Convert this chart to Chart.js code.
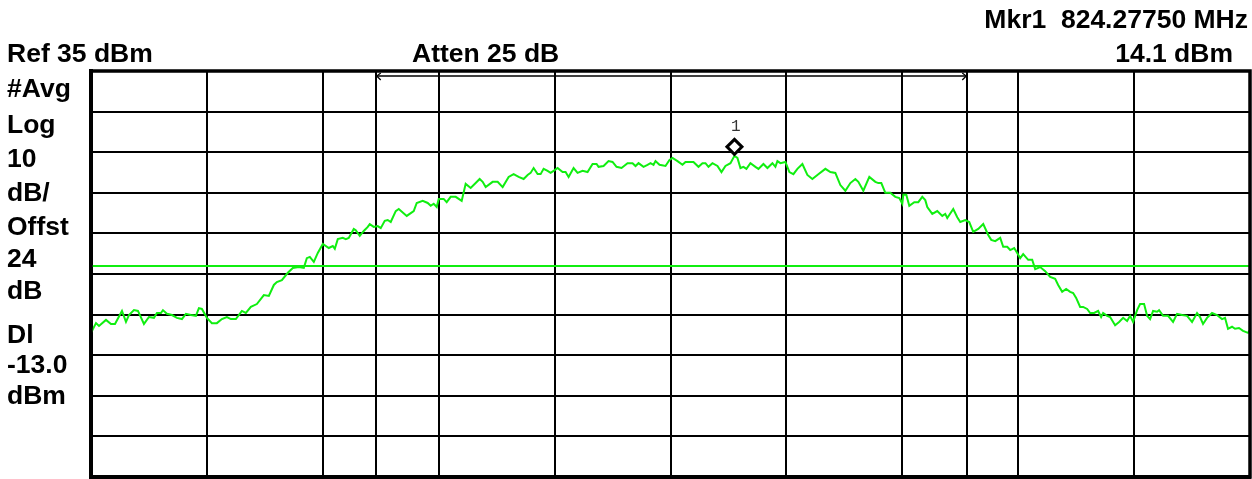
<!DOCTYPE html>
<html>
<head>
<meta charset="utf-8">
<script src="https://cdn.jsdelivr.net/npm/chart.js@4.4.1/dist/chart.umd.min.js"></script>
<style>
  html, body { margin: 0; padding: 0; background: #fff; }
  #wrap { position: relative; width: 1252px; height: 479px; overflow: hidden; }
  canvas { position: absolute; left: 0; top: 0; }
  .lbl { position: absolute; font-family: "Liberation Sans", Arial, sans-serif; font-weight: bold;
         font-size: 26.5px; line-height: 26.5px; color: #000; white-space: pre; }
  .mk { position: absolute; font-family: "Liberation Mono", "DejaVu Sans Mono", monospace; font-size: 16px;
        line-height: 16px; color: #333; }
</style>
</head>
<body>
<div id="wrap">
  <canvas id="c" width="1252" height="479"></canvas>
  <div class="lbl" style="right:4px; top:6px;">Mkr1  824.27750 MHz</div>
  <div class="lbl" style="left:7px; top:40px;">Ref 35 dBm</div>
  <div class="lbl" style="left:412px; top:40px;">Atten 25 dB</div>
  <div class="lbl" style="right:19px; top:40px;">14.1 dBm</div>
  <div class="lbl" style="left:7px; top:75px;">#Avg</div>
  <div class="lbl" style="left:7px; top:111px;">Log</div>
  <div class="lbl" style="left:7px; top:145px;">10</div>
  <div class="lbl" style="left:7px; top:179px;">dB/</div>
  <div class="lbl" style="left:7px; top:213px;">Offst</div>
  <div class="lbl" style="left:7px; top:245px;">24</div>
  <div class="lbl" style="left:7px; top:277px;">dB</div>
  <div class="lbl" style="left:7px; top:321px;">Dl</div>
  <div class="lbl" style="left:7px; top:351px;">-13.0</div>
  <div class="lbl" style="left:7px; top:382px;">dBm</div>
  <div class="mk" style="left:731px; top:119px;">1</div>
</div>
<script>
// Frequency offset from the start of the sweep (kHz), span read as 2320 kHz
const freqKHz = [
  0,10,16,30,40,48,62,70,76,86,94,106,116,126,132,140,144,152,162,172,182,190,200,210,216,222,232,242,252,262,272,280,290,302,310,320,332,346,356,366,372,382,394,
  404,416,426,432,438,446,454,464,476,484,488,494,504,510,516,526,530,538,546,554,558,566,574,580,588,594,600,610,616,632,646,652,664,674,680,686,692,696,706,712,720,730,742,750,760,770,778,
  784,790,804,814,824,836,846,856,866,874,880,886,894,900,906,914,920,926,934,944,950,956,966,974,984,994,1004,1012,1016,1026,1036,1044,1052,1062,1074,1084,1090,1096,1106,1114,1120,1126,1130,1138,1150,1158,
  1164,1174,1184,1190,1206,1216,1224,1230,1236,1244,1254,1262,1270,1280,1288,1294,1300,1306,1312,1320,1330,1336,1346,1354,1364,1370,1374,1380,1390,1398,1406,1414,1424,1434,1444,1454,1470,1480,1490,1500,1510,1520,
  1530,1536,1546,1558,1570,1576,1582,1590,1600,1610,1618,1624,1626,1632,1638,1648,1656,1664,1670,1674,1684,1694,1704,1710,1714,1726,1734,1740,1750,1758,1766,1776,1786,1796,1802,1810,1820,1826,1834,1840,1848,1854,1860,1866,1876,1884,1890,1900,1910,
  1920,1930,1936,1944,1952,1960,1966,1972,1980,1986,1994,2000,2008,2016,2022,2026,2034,2040,2050,2058,2066,2074,2080,2086,2094,2100,2108,2114,2120,2126,2134,2138,2146,2156,2166,2174,2184,2194,2204,2214,2220,2226,2234,2244,2254,2264,2270,2276,2284,2290,2298,2306,2316,2320
];
// Trace level (dBm)
const traceDbm = [
  -29.5,-27.1,-27.8,-26.3,-27.3,-27.3,-24.1,-26.8,-25.1,-23.9,-24.1,-27.3,-25.6,-25.8,-24.6,-24.6,-23.9,-24.8,-25.1,-25.8,-26.1,-24.8,-25.1,-25.3,-23.4,-23.6,-25.8,-27.1,-27.1,-26.1,-25.6,-26.1,-26.1,-24.1,-24.6,-23.1,-22.4,-20.2,-20.4,-17.7,-17.0,-16.5,-14.7,
  -13.5,-13.3,-13.5,-11.1,-10.8,-12.0,-9.8,-7.6,-8.6,-8.1,-8.8,-6.4,-6.1,-6.4,-6.1,-3.9,-4.2,-5.6,-4.4,-3.4,-2.7,-3.4,-3.2,-3.7,-1.9,-1.7,-2.2,0.5,1.0,-0.7,0.5,2.5,3.0,2.5,1.8,2.3,1.5,3.5,3.5,2.7,4.0,4.0,3.0,7.2,6.2,7.4,8.4,
  7.7,6.4,7.7,7.7,6.4,8.9,9.6,8.9,8.4,9.4,9.9,11.1,9.6,9.6,10.9,10.4,9.9,10.4,11.1,10.1,10.1,8.9,11.1,9.9,10.4,10.1,12.1,12.1,11.4,11.6,12.8,12.6,11.4,11.1,12.3,12.3,11.6,12.3,11.4,11.9,12.3,11.9,12.8,11.9,11.6,13.1,
  13.6,12.8,11.9,12.6,12.6,11.4,12.3,12.3,11.4,12.3,11.6,10.1,11.6,12.3,14.1,13.6,11.1,11.4,10.9,12.3,11.4,10.9,12.1,11.1,12.3,11.4,12.8,12.3,12.6,10.1,9.6,10.9,12.1,9.4,8.4,9.4,10.9,10.1,9.9,6.9,5.5,7.4,
  8.4,7.7,5.5,8.9,7.7,7.4,7.4,5.0,5.0,4.0,3.7,2.3,4.5,4.5,1.8,2.7,2.7,4.0,3.2,1.5,-0.2,0.5,-0.7,-0.2,-1.2,1.0,-1.0,-2.2,-1.7,-2.2,-4.6,-3.9,-2.7,-5.4,-6.6,-6.9,-6.1,-8.3,-8.3,-9.1,-8.6,-9.8,-11.1,-10.1,-11.5,-11.5,-13.8,-13.3,-14.3,
  -15.7,-16.2,-17.7,-19.4,-18.7,-19.4,-19.7,-20.9,-23.1,-23.1,-23.6,-24.6,-24.6,-24.1,-25.6,-24.6,-25.3,-25.6,-27.6,-26.8,-25.8,-26.6,-25.3,-26.8,-23.9,-22.4,-22.4,-25.3,-26.1,-24.1,-24.3,-23.9,-25.3,-25.3,-26.8,-24.8,-25.1,-25.3,-26.8,-24.6,-25.6,-27.3,-25.8,-24.6,-25.1,-26.1,-25.8,-28.5,-28.0,-28.5,-28.3,-29.0,-29.5,-28.8
];
// Grid / axis ticks
const freqGridTicks = [0,232,464,696,928,1160,1392,1624,1856,2088,2320];
const channelEdges = [570,1754];        // channel measurement edges (kHz offset)
const levelTicks = [-65,-55,-45,-35,-25,-15,-5,5,15,25,35];
const displayLine = -13.0;              // dBm
const markerFreq = 1288;                // kHz offset
const markerLevel = 14.1;               // dBm

const GREEN = '#10ee10';

const overlay = {
  id: 'overlay',
  afterDatasetsDraw(chart) {
    const ctx = chart.ctx, xs = chart.scales.x, ys = chart.scales.y;
    const a = chart.chartArea;
    ctx.save();
    // heavy frame
    ctx.strokeStyle = '#000'; ctx.lineWidth = 3.5;
    ctx.strokeRect(a.left, a.top, a.right - a.left, a.bottom - a.top);
    // channel arrow
    const xa = xs.getPixelForValue(channelEdges[0]), xb = xs.getPixelForValue(channelEdges[1]);
    const ya = a.top + 5;
    ctx.lineWidth = 1.3;
    ctx.beginPath(); ctx.moveTo(xa, ya); ctx.lineTo(xb, ya); ctx.stroke();
    ctx.beginPath(); ctx.moveTo(xa + 5, ya - 3); ctx.lineTo(xa + 1, ya); ctx.lineTo(xa + 5, ya + 4); ctx.stroke();
    ctx.beginPath(); ctx.moveTo(xb - 5, ya - 3); ctx.lineTo(xb - 1, ya); ctx.lineTo(xb - 5, ya + 4); ctx.stroke();
    // marker diamond
    const mx = xs.getPixelForValue(markerFreq), my = ys.getPixelForValue(markerLevel) - 9;
    const r = 7.5;
    ctx.beginPath();
    ctx.moveTo(mx, my - r); ctx.lineTo(mx + r, my); ctx.lineTo(mx, my + r); ctx.lineTo(mx - r, my); ctx.closePath();
    ctx.fillStyle = '#fff'; ctx.fill();
    ctx.lineWidth = 3; ctx.strokeStyle = '#000'; ctx.stroke();
    ctx.restore();
  }
};

const points = freqKHz.map((f, i) => ({ x: f, y: traceDbm[i] }));

new Chart(document.getElementById('c'), {
  type: 'scatter',
  data: {
    datasets: [
      { data: [{ x: 0, y: displayLine }, { x: 2320, y: displayLine }], showLine: true,
        borderColor: GREEN, borderWidth: 2, pointRadius: 0, order: 2 },
      { data: points, showLine: true, borderColor: GREEN, borderWidth: 2, pointRadius: 0,
        tension: 0, order: 1 }
    ]
  },
  options: {
    responsive: false,
    animation: false,
    events: [],
    layout: { padding: { left: 91, top: 71, right: 2, bottom: 2 } },
    plugins: { legend: { display: false }, tooltip: { enabled: false } },
    scales: {
      x: {
        type: 'linear', min: 0, max: 2320,
        afterBuildTicks: (s) => { s.ticks = freqGridTicks.concat(channelEdges).sort((a,b)=>a-b).map(v => ({ value: v })); },
        ticks: { display: false },
        grid: { color: '#000', lineWidth: 2, drawTicks: false },
        border: { color: '#000', width: 4 }
      },
      y: {
        type: 'linear', min: -65, max: 35,
        afterBuildTicks: (s) => { s.ticks = levelTicks.map(v => ({ value: v })); },
        ticks: { display: false },
        grid: { color: '#000', lineWidth: 2, drawTicks: false },
        border: { color: '#000', width: 4 }
      }
    }
  },
  plugins: [overlay]
});
</script>
</body>
</html>
